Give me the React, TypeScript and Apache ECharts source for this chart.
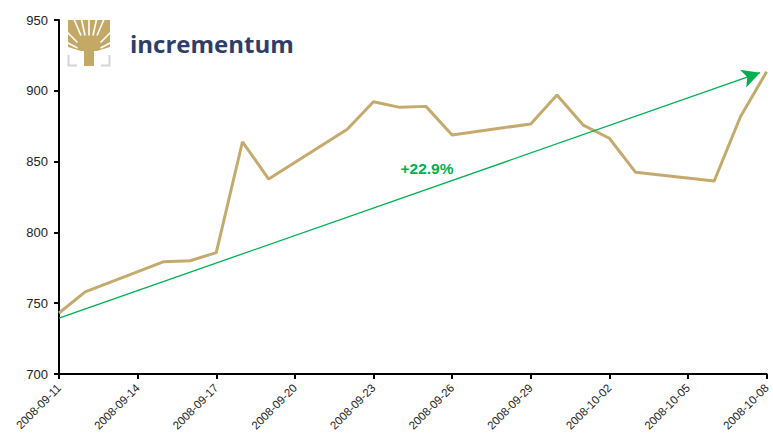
import React, { useEffect, useRef } from "react";
import * as echarts from "echarts";

const dates = [
  "2008-09-11", "2008-09-12", "2008-09-15", "2008-09-16", "2008-09-17", "2008-09-18", "2008-09-19",
  "2008-09-22", "2008-09-23", "2008-09-24", "2008-09-25", "2008-09-26", "2008-09-29", "2008-09-30",
  "2008-10-01", "2008-10-02", "2008-10-03", "2008-10-06", "2008-10-07", "2008-10-08",
];
const values = [
  743.1, 758.0, 779.3, 780.0, 785.7, 864.0, 837.7, 872.8, 892.3, 888.3, 889.0, 868.8, 876.6, 897.0,
  875.8, 866.5, 842.4, 836.3, 881.7, 913.5,
];
const trendStart = { date: "2008-09-11T00:00:00Z", value: 739.5 };
const trendEnd = { date: "2008-10-07T18:00:00Z", value: 912.8 };
const trendLabel = "+22.9%";
const trendLabelAt = { date: "2008-09-25T01:00:00Z", value: 845 };
const xMin = "2008-09-11";
const xMax = "2008-10-08";
const yMin = 700;
const yMax = 950;
const yStep = 50;
const xStepDays = 3;

const DAY = 86400000;
const toDay = (s: string) => Date.parse(s.length === 10 ? s + "T00:00:00Z" : s) / DAY;
const fmtDay = (d: number) => new Date(Math.round(d) * DAY).toISOString().slice(0, 10);

export default function App() {
  const ref = useRef<HTMLDivElement>(null);
  useEffect(() => {
    document.body.style.margin = "0";
    const chart = echarts.init(ref.current!, undefined, { renderer: "svg" });
    const gold = "#C4AA6D";
    const green = "#00B050";
    const tg = "#C3A965";
    const ox = 89;
    const oy = 54;
    const gaps = [
      [66, 42], [66, 31], [73, 17], [81, 17], [89, 17], [97, 17], [105, 17], [112, 31], [112, 42],
    ];
    const gapLines = gaps.map(([x, y]) => ({
      type: "line",
      shape: { x1: ox + (x - ox) * 0.5, y1: oy + (y - oy) * 0.5, x2: x, y2: y },
      style: { stroke: "#fff", lineWidth: 1.6 },
    }));
    chart.setOption({
      animation: false,
      grid: { left: 59, right: 1, top: 20, bottom: 65 },
      xAxis: {
        type: "value",
        min: toDay(xMin),
        max: toDay(xMax),
        interval: xStepDays,
        splitLine: { show: false },
        axisLine: { lineStyle: { color: "#000", width: 2 } },
        axisTick: { show: true, length: 5, lineStyle: { color: "#000", width: 2 } },
        axisLabel: {
          rotate: 45,
          formatter: (v: number) => fmtDay(v),
          fontFamily: "Liberation Sans",
          fontSize: 11.5,
          color: "#222",
          margin: 12,
        },
      },
      yAxis: {
        type: "value",
        min: yMin,
        max: yMax,
        interval: yStep,
        splitLine: { show: false },
        axisLine: { show: true, lineStyle: { color: "#000", width: 2 } },
        axisTick: { show: true, length: 5, lineStyle: { color: "#000", width: 2 } },
        axisLabel: {
          fontFamily: "Liberation Sans",
          fontSize: 13,
          color: "#222",
          margin: 11,
        },
      },
      graphic: [
        { type: "polygon", shape: { points: [[68, 20], [110, 20], [110, 47], [97, 51], [81, 51], [68, 47]] }, style: { fill: tg } },
        ...gapLines,
        { type: "polygon", shape: { points: [[84, 44], [94, 44], [94, 66], [84, 66]] }, style: { fill: tg } },
        { type: "polyline", shape: { points: [[68.5, 55], [68.5, 65.5], [77, 65.5]] }, style: { stroke: "#D5D5D5", lineWidth: 2, fill: null } },
        { type: "polyline", shape: { points: [[109.5, 55], [109.5, 65.5], [101, 65.5]] }, style: { stroke: "#D5D5D5", lineWidth: 2, fill: null } },
        {
          type: "text",
          left: 130,
          top: 31,
          style: {
            text: "incrementum",
            font: "bold 24px 'Open Sans', 'Liberation Sans', sans-serif",
            fill: "#2D3E6A",
          },
        },
      ],
      series: [
        {
          type: "line",
          data: dates.map((d, i) => [toDay(d), values[i]]),
          showSymbol: false,
          symbol: "none",
          lineStyle: { color: gold, width: 3 },
          markLine: {
            silent: true,
            symbol: ["none", "arrow"],
            symbolSize: [14, 18],
            label: { show: false },
            lineStyle: { color: green, width: 1.3, type: "solid" },
            data: [
              [
                { coord: [toDay(trendStart.date), trendStart.value] },
                { coord: [toDay(trendEnd.date), trendEnd.value] },
              ],
            ],
          },
          markPoint: {
            symbol: "circle",
            symbolSize: 0,
            silent: true,
            label: {
              show: true,
              formatter: trendLabel,
              color: green,
              fontWeight: "bold",
              fontSize: 15.5,
              fontFamily: "Liberation Sans",
            },
            data: [{ coord: [toDay(trendLabelAt.date), trendLabelAt.value] }],
          },
        },
      ],
    });
    return () => chart.dispose();
  }, []);
  return <div ref={ref} style={{ width: 773, height: 439 }} />;
}
